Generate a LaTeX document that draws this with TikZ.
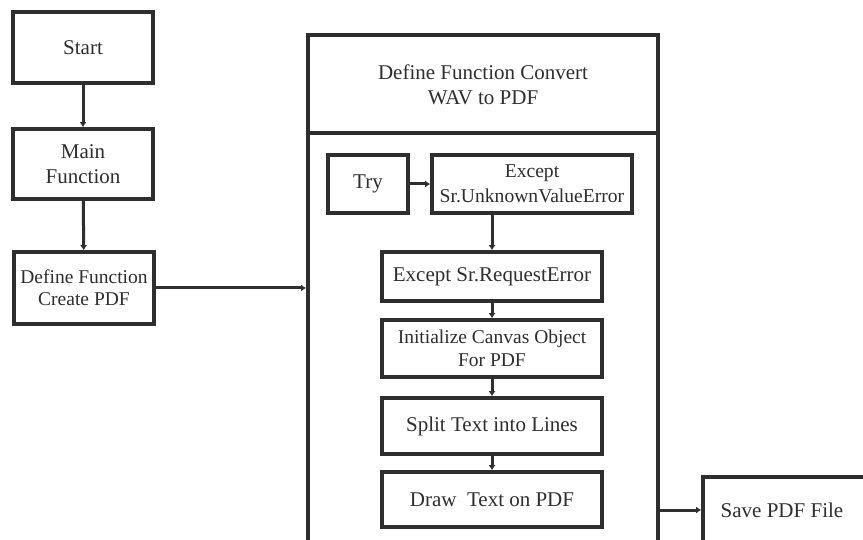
\documentclass[tikz,border=0pt]{standalone}
\usepackage{fontspec}
\setmainfont{Liberation Serif}
\usetikzlibrary{arrows.meta}
\definecolor{ink}{HTML}{2E2E2E}
\begin{document}
\begin{tikzpicture}[x=1pt,y=-1pt,
  box/.style={draw=ink,line width=3.6pt,rectangle,inner sep=0pt,text=ink,align=center,
    font=\fontsize{21}{25}\selectfont},
  lbl/.style={text=ink,align=center,inner sep=0pt,font=\fontsize{21}{25}\selectfont},
  arr/.style={draw=ink,line width=3pt,-{Latex[length=5pt,width=7pt]}}]
\useasboundingbox[fill=white] (0,0) rectangle (863,540);
% left column
\node[box,minimum width=140pt,minimum height=71pt] (start) at (83,47.5) {Start};
\node[box,minimum width=140pt,minimum height=70pt] (main) at (83,164) {Main\\Function};
\node[box,minimum width=140pt,minimum height=72pt,font=\fontsize{19.5}{22}\selectfont] (create) at (84,288) {Define Function\\Create PDF};
% outer function box
\node[draw=ink,line width=4pt,rectangle,minimum width=350pt,minimum height=512pt,inner sep=0pt] (outer) at (483,291) {};
\coordinate (divL) at (308,133);
\coordinate (divR) at (658,133);
\draw[ink,line width=3.2pt] (divL) -- (divR);
\node[lbl] (title) at (483,85) {Define Function Convert\\WAV to PDF};
% inner boxes
\node[box,minimum width=80pt,minimum height=58pt] (try) at (368,184) {Try};
\node[box,minimum width=200pt,minimum height=58pt,font=\fontsize{19.6}{25}\selectfont] (except) at (532,184) {Except\\Sr.UnknownValueError};
\node[box,minimum width=220pt,minimum height=49pt] (request) at (492,276.5) {Except Sr.RequestError};
\node[box,minimum width=220pt,minimum height=57pt,font=\fontsize{19.5}{23}\selectfont] (init) at (492,348.5) {Initialize Canvas Object\\For PDF};
\node[box,minimum width=220pt,minimum height=56pt] (split) at (492,426) {Split Text into Lines};
\node[box,minimum width=220pt,minimum height=55pt] (drawtxt) at (492,499.5) {Draw\ \ Text on PDF};
% save box
\node[box,minimum width=180pt,minimum height=66pt] (save) at (793,510) {};
\node[lbl] (savetxt) at (782,510) {Save PDF File};
% connectors
\draw[arr] (start) -- (main);
\draw[arr] (main) -- (create);
\draw[arr] (create.east) -- (outer.west |- create.east);
\draw[arr] (try) -- (except);
\draw[arr] (except.south -| request.north) -- (request.north);
\draw[arr] (request) -- (init);
\draw[arr] (init) -- (split);
\draw[arr] (split) -- (drawtxt);
\draw[arr] (outer.east |- save.west) -- (save.west);
\end{tikzpicture}
\end{document}
